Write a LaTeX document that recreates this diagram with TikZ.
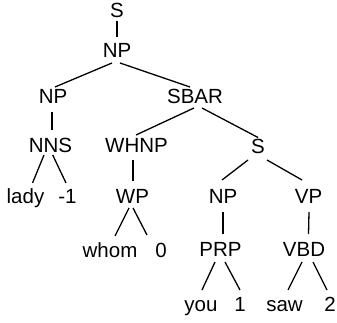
\documentclass[tikz,border=0pt]{standalone}
\usepackage{fontspec}
\setmainfont{Liberation Sans}
\begin{document}
\begin{tikzpicture}[x=1pt,y=-1pt,
  lbl/.style={anchor=base, inner sep=0pt, outer sep=0pt, text height=14.5pt, text depth=0pt, font=\fontsize{20.5}{24}\selectfont},
  edge/.style={line width=1.3pt, black}]
\useasboundingbox (0,0) rectangle (337,323);
% nodes (center x, baseline y)
\node[lbl] (s)    at (117,17.5)  {S};
\node[lbl] (np)   at (117,58)    {NP};
\node[lbl] (np1)  at (53,104)    {NP};
\node[lbl] (sbar) at (195,104)   {SBAR};
\node[lbl] (nns)  at (50.5,153)  {NNS};
\node[lbl] (whnp) at (136.5,153) {WHNP};
\node[lbl] (s2)   at (258,153.5) {S};
\node[lbl] (lady) at (25.5,204)  {lady};
\node[lbl] (m1)   at (67.5,204)  {-1};
\node[lbl] (wp)   at (132.5,203.5) {WP};
\node[lbl] (np2)  at (223,204)   {NP};
\node[lbl] (vp)   at (308.5,204) {VP};
\node[lbl] (whom) at (110,257)   {whom};
\node[lbl] (zero) at (161,257)   {0};
\node[lbl] (prp)  at (220.5,256) {PRP};
\node[lbl] (vbd)  at (304,256)   {VBD};
\node[lbl] (you)  at (201,311)   {you};
\node[lbl] (one)  at (240,311)   {1};
\node[lbl] (saw)  at (284.5,311) {saw};
\node[lbl] (two)  at (330,311)   {2};
% edges
\draw[edge] ([shift={(0,3.5)}]s.south) -- ([shift={(0,-6.5)}]np.north);
\draw[edge] ([shift={(-5,5)}]np.south) -- ([shift={(2,-2.5)}]np1.north);
\draw[edge] ([shift={(3,5)}]np.south) -- ([shift={(-5,-2.5)}]sbar.north);
\draw[edge] ([shift={(-1,8)}]np1.south) -- ([shift={(1.5,-8.5)}]nns.north);
\draw[edge] ([shift={(-1,4)}]sbar.south) -- ([shift={(-0.5,-3.5)}]whnp.north);
\draw[edge] ([shift={(7,4)}]sbar.south) -- ([shift={(0,-1.5)}]s2.north);
\draw[edge] ([shift={(-6.5,2)}]nns.south) -- ([shift={(7,-6.5)}]lady.north);
\draw[edge] ([shift={(2.2,2)}]nns.south) -- ([shift={(-1.5,-6.5)}]m1.north);
\draw[edge] ([shift={(-3.5,7)}]whnp.south) -- ([shift={(0.5,-7.5)}]wp.north);
\draw[edge] ([shift={(-10,6.5)}]s2.south) -- ([shift={(-1,-9.5)}]np2.north);
\draw[edge] ([shift={(9,6.5)}]s2.south) -- ([shift={(-6.5,-9.5)}]vp.north);
\draw[edge] ([shift={(0,8)}]np2.south) -- ([shift={(2.5,-7.5)}]prp.north);
\draw[edge] ([shift={(0.5,8)}]vp.south) -- ([shift={(4.5,-7.5)}]vbd.north);
\draw[edge] ([shift={(-3.5,4.5)}]wp.south) -- ([shift={(5,-6.5)}]whom.north);
\draw[edge] ([shift={(0.5,4.5)}]wp.south) -- ([shift={(-14,-7.5)}]zero.north);
\draw[edge] ([shift={(-5.5,6)}]prp.south) -- ([shift={(1,-6.5)}]you.north);
\draw[edge] ([shift={(4.5,6)}]prp.south) -- ([shift={(0,-6.5)}]one.north);
\draw[edge] ([shift={(-2,6)}]vbd.south) -- ([shift={(3.5,-6.5)}]saw.north);
\draw[edge] ([shift={(9,6)}]vbd.south) -- ([shift={(-3,-6.5)}]two.north);
\end{tikzpicture}
\end{document}
